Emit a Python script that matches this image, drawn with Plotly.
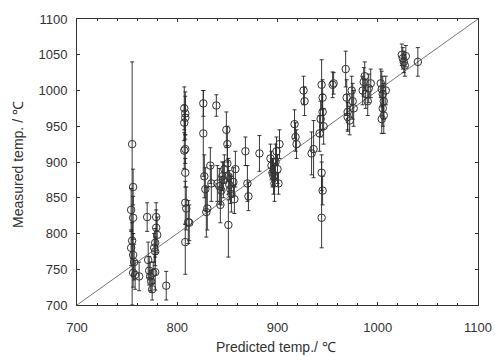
import plotly.graph_objects as go

# Predicted temperature (°C), measured temperature (°C), error bar up / down
pred = [755, 756, 754, 756, 755, 754, 756, 757, 756, 758, 762,
        770, 771, 772, 773, 774, 775, 776, 779, 779, 780, 778, 777, 778, 778, 789,
        807, 808, 808, 807, 808, 807, 808, 808, 809, 808, 811, 812,
        826, 826, 827, 828, 829, 830, 833, 834,
        839, 840, 842, 843, 844, 845, 846, 847,
        849, 850, 850, 851, 852, 853, 851, 854, 856, 857, 858,
        868, 870, 871, 882,
        893, 894, 895, 896, 897, 898, 899, 900, 901, 902,
        917, 918, 919, 926, 927, 936, 934,
        944, 945, 945, 946, 943, 942, 944, 945, 944, 955, 956,
        968, 969, 970, 970, 972, 975, 976, 974,
        985, 986, 987, 988, 990, 991, 993,
        1003, 1004, 1005, 1006, 1005, 1006, 1004, 1008,
        1024, 1025, 1026, 1027, 1028, 1040]
meas = [925, 865, 833, 822, 790, 780, 770, 760, 745, 742, 740,
        823, 763, 748, 740, 733, 722, 745, 823, 808, 798, 787, 780, 775, 746, 727,
        975, 968, 962, 955, 918, 916, 885, 843, 835, 788, 816, 815,
        982, 940, 880, 862, 830, 835, 895, 870,
        979, 870, 866, 840, 860, 880, 875, 890,
        945, 925, 898, 880, 868, 862, 812, 855, 872, 848, 890,
        915, 870, 852, 912,
        905, 895, 885, 880, 870, 900, 915, 890, 870, 925,
        953, 935, 925, 1000, 985, 918, 912,
        1008, 990, 970, 950, 960, 940, 885, 860, 822, 1008, 1010,
        1030, 990, 970, 963, 958, 985, 975, 1000,
        1000, 1012, 1020, 995, 985, 1003, 1010,
        1010, 1002, 995, 985, 975, 965, 960, 1000,
        1050, 1045, 1040, 1035, 1048, 1040]
err_up = [115, 25, 30, 30, 25, 25, 30, 25, 20, 20, 20,
          20, 25, 20, 20, 15, 15, 15, 20, 25, 25, 20, 20, 20, 25, 20,
          30, 30, 30, 25, 20, 25, 20, 30, 30, 25, 30, 25,
          18, 60, 30, 30, 35, 30, 25, 25,
          15, 25, 25, 25, 20, 20, 25, 20,
          25, 25, 25, 25, 20, 20, 35, 25, 20, 20, 25,
          20, 25, 20, 25,
          20, 20, 20, 25, 25, 25, 20, 20, 15, 20,
          20, 20, 20, 20, 20, 40, 30,
          35, 25, 25, 25, 25, 25, 25, 20, 78, 18, 15,
          25, 25, 25, 20, 20, 25, 25, 20,
          20, 20, 20, 20, 20, 20, 20,
          20, 25, 25, 25, 25, 25, 20, 20,
          15, 15, 15, 15, 15, 20]
err_down = [225, 25, 30, 30, 25, 25, 30, 25, 20, 20, 20,
            20, 25, 20, 20, 15, 15, 15, 20, 25, 25, 20, 20, 20, 25, 20,
            30, 30, 30, 25, 20, 25, 20, 30, 30, 45, 30, 25,
            18, 60, 30, 30, 35, 30, 25, 25,
            15, 25, 25, 25, 20, 20, 25, 20,
            25, 25, 25, 25, 20, 20, 45, 25, 20, 20, 25,
            20, 25, 20, 25,
            20, 20, 20, 25, 25, 25, 20, 20, 15, 20,
            20, 20, 20, 20, 20, 40, 30,
            35, 25, 25, 25, 25, 25, 25, 20, 42, 18, 15,
            25, 25, 25, 20, 20, 25, 25, 20,
            20, 20, 20, 20, 20, 20, 20,
            20, 25, 25, 25, 25, 25, 20, 20,
            15, 15, 15, 15, 15, 20]

x_ticks = [700, 800, 900, 1000, 1100]
y_ticks = [700, 750, 800, 850, 900, 950, 1000, 1050, 1100]
diag = [700, 1100]
x_title = "Predicted temp./ ℃"
y_title = "Measured temp. / ℃"

FONT = "Liberation Sans, Arial"
INK = "#333333"

fig = go.Figure()
fig.add_trace(go.Scatter(x=diag, y=diag, mode="lines",
                         line=dict(color="#555555", width=0.8),
                         hoverinfo="skip", showlegend=False))
fig.add_trace(go.Scatter(
    x=pred, y=meas, mode="markers",
    marker=dict(symbol="circle-open", size=7.5, color=INK,
                line=dict(width=1, color=INK)),
    error_y=dict(type="data", symmetric=False, array=err_up, arrayminus=err_down,
                 color="#222222", thickness=0.9, width=2),
    showlegend=False))

axis_common = dict(showgrid=False, zeroline=False, showline=True, mirror="ticks",
                   linecolor=INK, linewidth=1, ticks="inside", ticklen=3,
                   tickcolor=INK, automargin=False,
                   tickfont=dict(family=FONT, size=13, color=INK))
fig.update_xaxes(range=[700, 1100], tickvals=x_ticks, ticklabelstandoff=10,
                 minor=dict(dtick=20, ticks="inside", ticklen=2, tickcolor=INK),
                 **axis_common)
fig.update_yaxes(range=[700, 1100], tickvals=y_ticks, ticklabelstandoff=6,
                 **axis_common)
fig.add_annotation(text=x_title, xref="paper", yref="paper", x=0.496, y=-0.147,
                   xanchor="center", yanchor="middle", showarrow=False,
                   font=dict(family=FONT, size=14, color=INK))
fig.add_annotation(text=y_title, xref="paper", yref="paper", x=-0.147, y=0.49,
                   xanchor="center", yanchor="middle", showarrow=False, textangle=-90,
                   font=dict(family=FONT, size=14, color=INK))
fig.update_layout(width=495, height=356, margin=dict(l=77, r=17, t=19, b=51),
                  paper_bgcolor="white", plot_bgcolor="white")
fig.write_html("out.html", config={"displayModeBar": False},
               post_script="document.body.style.margin='0px';document.body.style.overflow='hidden';")
